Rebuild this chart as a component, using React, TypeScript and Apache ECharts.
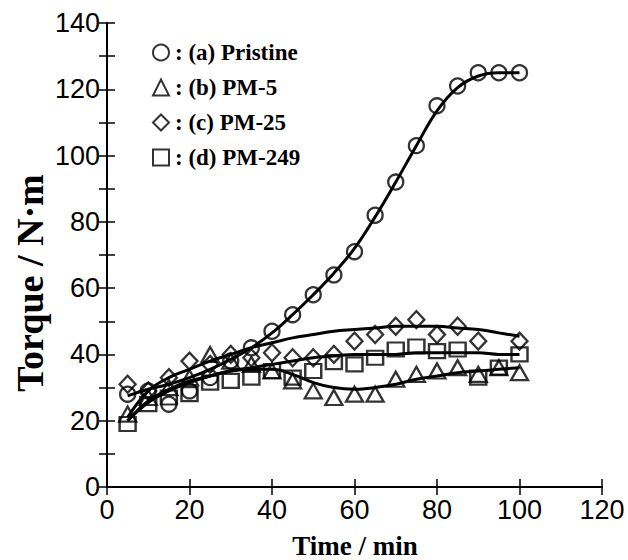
import React, { useEffect, useRef } from "react";
import * as echarts from "echarts";

const timeMin = [5, 10, 15, 20, 25, 30, 35, 40, 45, 50, 55, 60, 65, 70, 75, 80, 85, 90, 95, 100];

// measured points
const pristine = [28, 29, 25, 29, 33, 38, 42, 47, 52, 58, 64, 71, 82, 92, 103, 115, 121, 125, 125, 125];
const pm5 = [22, 27, 30, 33, 40, 38, 37, 35, 32, 29, 27, 28, 28, 32.5, 34, 35, 36, 34, 36, 34.5];
const pm25 = [31, 29, 33, 38, 37, 40, 39, 40.5, 39, 39, 40, 44, 46, 48.5, 50.5, 46, 48.5, 44, null, 44];
const pm249 = [19, 25, 27, 28, 31.5, 32, 33, 35, 33, 35, 37.7, 37, 39, 41.5, 42.4, 41, 41.5, 33, 36, 40];

// fitted curves
const fitPristine = [27.5, 29.5, 31, 33, 35.5, 38.5, 42, 46.5, 52, 58, 64.5, 72, 81.5, 92, 103, 113.5, 120.5, 124, 125, 125];
const fitPm25 = [21, 29, 33, 35.5, 38, 40, 42, 43.5, 45, 46, 47, 47.5, 48, 48.5, 48.5, 48.5, 48, 47.5, 46.5, 45.5];
const fitPm249 = [20, 26, 29.5, 32, 33.5, 35, 36, 37, 38, 39, 39.5, 40, 40, 40, 40.5, 40.5, 40.5, 40.5, 40, 40];
const fitPm5 = [20, 25.5, 29, 31.5, 33.5, 35, 35.5, 35.5, 34, 31.5, 30, 29.5, 30, 31, 32.5, 33.5, 34.5, 35, 35.5, 36];

const seriesNames = [": (a) Pristine", ": (b) PM-5", ": (c) PM-25", ": (d) PM-249"];
const seriesSymbols = ["circle", "triangle", "diamond", "rect"];
const seriesValues = [pristine, pm5, pm25, pm249];
const seriesSizes = [15, [17, 15], [16, 17], [16, 14]];
const fitValues = [fitPristine, fitPm5, fitPm25, fitPm249];

const xTitle = "Time / min";
const yTitle = "Torque / N·m";

const pairs = (vals: (number | null)[]) =>
  timeMin.map((t, i) => [t, vals[i]]).filter((p) => p[1] !== null);

export default function App() {
  const ref = useRef<HTMLDivElement>(null);
  useEffect(() => {
    if (!ref.current) return;
    const chart = echarts.init(ref.current, null, { renderer: "svg" });
    const axisLine = { show: true, lineStyle: { color: "#000", width: 2 } };
    const tickFont = { fontFamily: "Liberation Sans, Arial", fontSize: 27, color: "#000" };
    const serif = "Liberation Serif, Times New Roman";
    const tickStyle = { color: "#000", width: 1.5 };

    const fitSeries = fitValues.map((vals, i) => ({
      name: "fit" + i,
      type: "line",
      data: pairs(vals),
      smooth: 0.4,
      showSymbol: false,
      symbol: "none",
      lineStyle: { color: "#000", width: 3 },
      z: 2,
      silent: true,
    }));
    const pointSeries = seriesValues.map((vals, i) => ({
      name: seriesNames[i],
      type: "scatter",
      data: pairs(vals),
      symbol: seriesSymbols[i],
      symbolSize: seriesSizes[i],
      itemStyle: { color: "rgba(0,0,0,0)", borderColor: "#000", borderWidth: 2.3 },
      z: 3,
    }));

    chart.setOption({
      animation: false,
      backgroundColor: "#fff",
      grid: { left: 107, top: 23, right: 26, bottom: 73 },
      graphic: [
        {
          type: "text",
          x: 30,
          y: 283,
          rotation: Math.PI / 2,
          style: {
            text: yTitle,
            font: `bold 38px ${serif}`,
            fill: "#000",
            textAlign: "center",
            textVerticalAlign: "middle",
          },
        },
        {
          type: "text",
          x: 355,
          y: 546,
          style: {
            text: xTitle,
            font: `bold 27px ${serif}`,
            fill: "#000",
            textAlign: "center",
            textVerticalAlign: "middle",
          },
        },
      ],
      legend: {
        data: seriesNames.map((n, i) => ({ name: n, icon: seriesSymbols[i] })),
        orient: "vertical",
        left: 152,
        top: 41,
        padding: 0,
        itemWidth: 16,
        itemHeight: 16,
        itemGap: 12,
        selectedMode: false,
        itemStyle: { color: "rgba(0,0,0,0)", borderColor: "#000", borderWidth: 2 },
        textStyle: { fontFamily: serif, fontWeight: "bold", color: "#000", fontSize: 23, padding: [0, 0, 0, 1] },
      },
      xAxis: [
        {
          type: "value",
          min: 0,
          max: 120,
          interval: 20,
          position: "bottom",
          axisLine,
          axisTick: { show: true, inside: true, length: 8, lineStyle: tickStyle },
          axisLabel: { ...tickFont, margin: 9 },
          splitLine: { show: false },
        },
        {
          type: "value",
          min: 0,
          max: 120,
          interval: 20,
          position: "top",
          axisLine,
          axisTick: { show: true, inside: true, length: 8, lineStyle: tickStyle },
          axisLabel: { show: false },
          splitLine: { show: false },
        },
      ],
      yAxis: [
        {
          type: "value",
          min: 0,
          max: 140,
          interval: 20,
          position: "left",
          axisLine,
          axisTick: { show: true, inside: true, length: 8, lineStyle: tickStyle },
          minorTick: { show: true, splitNumber: 2, length: 8, lineStyle: tickStyle },
          axisLabel: { ...tickFont, margin: 7 },
          splitLine: { show: false },
          minorSplitLine: { show: false },
        },
        {
          type: "value",
          min: 0,
          max: 140,
          interval: 20,
          position: "right",
          axisLine,
          axisTick: { show: true, inside: true, length: 8, lineStyle: tickStyle },
          minorTick: { show: true, splitNumber: 2, length: 8, lineStyle: tickStyle },
          axisLabel: { show: false },
          splitLine: { show: false },
          minorSplitLine: { show: false },
        },
      ],
      series: [...fitSeries, ...pointSeries],
    });
    return () => chart.dispose();
  }, []);
  return (
    <div
      ref={ref}
      style={{ position: "absolute", left: 0, top: 0, width: 628, height: 560 }}
    />
  );
}
